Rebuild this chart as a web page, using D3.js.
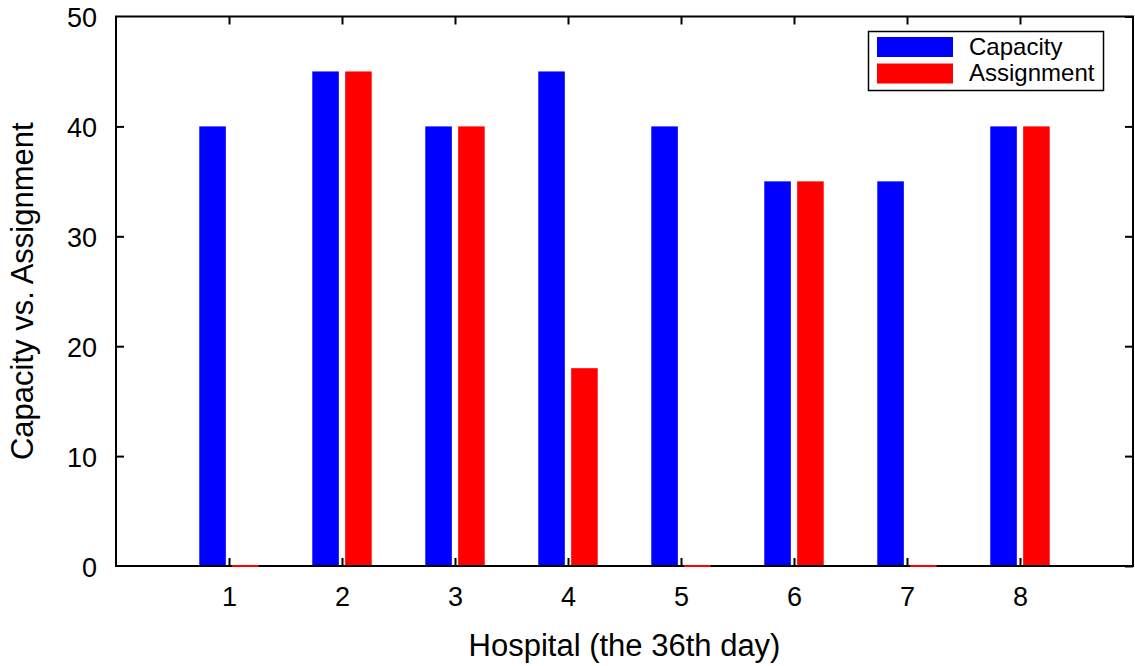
<!DOCTYPE html>
<html><head><meta charset="utf-8">
<script src="https://cdn.jsdelivr.net/npm/d3@7"></script>
<style>
html,body{margin:0;padding:0;background:#fff;}
text{font-family:"Liberation Sans",Arial,Helvetica,sans-serif;fill:#000;}
</style></head>
<body>
<svg id="chart" width="1135" height="666"></svg>
<script>
const categories = [1, 2, 3, 4, 5, 6, 7, 8];
const capacity   = [40, 45, 40, 45, 40, 35, 35, 40];
const assignment = [0, 45, 40, 18, 0, 35, 0, 40];
const yTicks = [0, 10, 20, 30, 40, 50];
const seriesNames = ["Capacity", "Assignment"];
const seriesColors = ["#0000ff", "#ff0000"];
const xLabel = "Hospital (the 36th day)";
const yLabel = "Capacity vs. Assignment";

const svg = d3.select("#chart");
const L = 116, R = 1133, T = 16.5, B = 566;
const x = d3.scaleLinear().domain([0, 9]).range([L, R]);
const y = d3.scaleLinear().domain([0, 50]).range([B, T]);

const barW = 0.235, gap = 0.028;
const series = [capacity, assignment];
const offsets = [-gap - barW, gap];

// bars
series.forEach((vals, si) => {
  svg.append("g").selectAll("rect")
    .data(categories.map((c, i) => ({c, v: vals[i]})).filter(d => d.v > 0))
    .join("rect")
    .attr("x", d => x(d.c + offsets[si]))
    .attr("width", d => x(d.c + offsets[si] + barW) - x(d.c + offsets[si]))
    .attr("y", d => y(d.v))
    .attr("height", d => y(0) - y(d.v))
    .attr("fill", seriesColors[si]);
});

const fs = 27;
// axes
const gx = svg.append("g").attr("transform", `translate(0,${B})`)
  .call(d3.axisBottom(x).tickValues(categories).tickSizeInner(-8).tickSizeOuter(0).tickPadding(21));
const gxTop = svg.append("g").attr("transform", `translate(0,${T})`)
  .call(d3.axisTop(x).tickValues(categories).tickSizeInner(-8).tickSizeOuter(0).tickFormat(""));
const gy = svg.append("g").attr("transform", `translate(${L},0)`)
  .call(d3.axisLeft(y).tickValues(yTicks).tickSizeInner(-8).tickSizeOuter(0).tickPadding(19));
const gyR = svg.append("g").attr("transform", `translate(${R},0)`)
  .call(d3.axisRight(y).tickValues(yTicks).tickSizeInner(-8).tickSizeOuter(0).tickFormat(""));
[gx, gxTop, gy, gyR].forEach(g => {
  g.select(".domain").remove();
  g.selectAll(".tick line").attr("stroke", "#000").attr("stroke-width", 2);
  g.selectAll("text").attr("font-size", fs).attr("font-family", '"Liberation Sans",Arial,sans-serif').attr("fill", "#000");
});
gy.selectAll(".tick text").attr("dy", "0.37em");
gy.selectAll(".tick").filter(d => d === 0 || d === 50).select("line").remove();

// frame
svg.append("rect").attr("x", L).attr("y", T).attr("width", R - L).attr("height", B - T)
  .attr("fill", "none").attr("stroke", "#000").attr("stroke-width", 2);

// zero-height bars drawn as thin lines
series.forEach((vals, si) => {
  svg.append("g").selectAll("line")
    .data(categories.map((c, i) => ({c, v: vals[i]})).filter(d => d.v === 0))
    .join("line")
    .attr("x1", d => x(d.c + offsets[si]))
    .attr("x2", d => x(d.c + offsets[si] + barW))
    .attr("y1", y(0)).attr("y2", y(0))
    .attr("stroke", seriesColors[si]).attr("stroke-width", 2);
});

// axis titles
svg.append("text").attr("x", (L + R) / 2 + 0).attr("y", 656)
  .attr("text-anchor", "middle").attr("font-size", 31).text(xLabel);
svg.append("text").attr("transform", `translate(33,${(T + B) / 2}) rotate(-90)`)
  .attr("text-anchor", "middle").attr("font-size", 31).text(yLabel);

// legend
const lg = svg.append("g");
lg.append("rect").attr("x", 868.5).attr("y", 31.5).attr("width", 235).attr("height", 59)
  .attr("fill", "#fff").attr("stroke", "#000").attr("stroke-width", 1.5);
seriesNames.forEach((n, i) => {
  lg.append("rect").attr("x", 877).attr("y", 37 + i * 26.5).attr("width", 76).attr("height", 20)
    .attr("fill", seriesColors[i]);
  lg.append("text").attr("x", 969).attr("y", 54.5 + i * 26.5).attr("font-size", 24).text(n);
});
</script>
</body></html>
